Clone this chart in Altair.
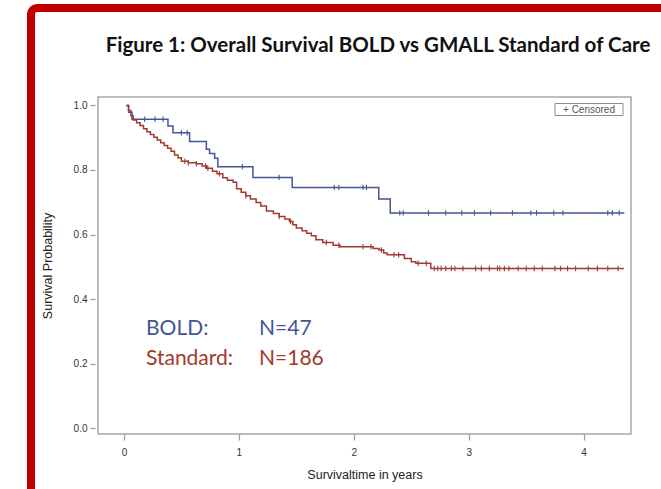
import altair as alt
import pandas as pd

# ---------------- data ----------------
groups = ["BOLD", "Standard"]
group_colors = ["#445694", "#A23A2E"]
group_n = ["N=47", "N=186"]
title_text = "Figure 1: Overall Survival BOLD vs GMALL Standard of Care"

# Kaplan-Meier step points: (time in years, survival probability)
bold_steps = [
    (0.02, 1.000), (0.04, 0.979), (0.07, 0.957), (0.383, 0.936), (0.426, 0.915),
    (0.571, 0.888), (0.717, 0.864), (0.745, 0.851), (0.789, 0.836), (0.817, 0.810),
    (1.122, 0.777), (1.464, 0.746), (2.217, 0.710), (2.317, 0.667), (4.354, 0.667),
]
standard_steps = [
    (0.02, 1.000), (0.04, 0.984), (0.06, 0.968), (0.08, 0.955), (0.11, 0.946),
    (0.14, 0.938), (0.17, 0.928), (0.20, 0.918), (0.23, 0.910), (0.26, 0.901),
    (0.29, 0.893), (0.32, 0.884), (0.35, 0.876), (0.38, 0.867), (0.41, 0.858),
    (0.44, 0.846), (0.47, 0.838), (0.50, 0.827), (0.56, 0.822), (0.63, 0.819),
    (0.68, 0.812), (0.72, 0.805), (0.77, 0.796), (0.81, 0.788), (0.86, 0.776),
    (0.90, 0.768), (0.95, 0.762), (0.98, 0.742), (1.02, 0.731), (1.06, 0.720),
    (1.10, 0.710), (1.15, 0.699), (1.19, 0.688), (1.24, 0.673), (1.30, 0.665),
    (1.35, 0.656), (1.40, 0.648), (1.44, 0.640), (1.47, 0.630), (1.50, 0.620),
    (1.55, 0.612), (1.59, 0.604), (1.63, 0.596), (1.67, 0.584), (1.73, 0.575),
    (1.82, 0.567), (1.88, 0.562), (2.17, 0.557), (2.22, 0.552), (2.26, 0.543),
    (2.29, 0.537), (2.44, 0.526), (2.50, 0.516), (2.54, 0.511), (2.67, 0.495),
    (4.35, 0.495),
]

# censoring times (years)
bold_censored = [
    0.18, 0.27, 0.34, 0.50, 0.55, 1.03, 1.35, 1.83, 1.87, 2.08, 2.11,
    2.40, 2.43, 2.65, 2.80, 2.94, 3.05, 3.19, 3.38, 3.54, 3.59, 3.74, 3.82,
    4.21, 4.25, 4.31,
]
standard_censored = [
    0.53, 0.56, 0.63, 0.71, 0.73, 0.83, 1.06, 1.35, 1.45, 1.76, 1.87,
    2.08, 2.15, 2.24, 2.35, 2.39, 2.56, 2.63,
    2.70, 2.73, 2.76, 2.80, 2.85, 2.88, 2.95, 3.06, 3.11, 3.18, 3.25, 3.27,
    3.31, 3.35, 3.43, 3.50, 3.57, 3.64, 3.75, 3.80, 3.86, 3.93, 4.04, 4.12,
    4.21, 4.30,
]

x_ticks = [0, 1, 2, 3, 4]
y_ticks = [0.0, 0.2, 0.4, 0.6, 0.8, 1.0]

# ---------------- tables ----------------
curve_rows = []
for g, steps in zip(groups, [bold_steps, standard_steps]):
    for t, s in steps:
        curve_rows.append({"group": g, "time": t, "surv": s})
curves = pd.DataFrame(curve_rows)


def surv_at(steps, t):
    val = steps[0][1]
    for st, sv in steps:
        if st <= t:
            val = sv
    return val


cens_rows = []
for g, steps, cens in zip(groups, [bold_steps, standard_steps],
                          [bold_censored, standard_censored]):
    for t in cens:
        cens_rows.append({"group": g, "time": t, "surv": surv_at(steps, t)})
censored = pd.DataFrame(cens_rows)

X_DOM = [-0.226, 4.412]
Y_DOM = [-0.018, 1.026]
color = alt.Color("group:N", scale=alt.Scale(domain=groups, range=group_colors),
                  legend=None)

x_enc = alt.X("time:Q", scale=alt.Scale(domain=X_DOM, nice=False, zero=False),
              axis=alt.Axis(values=x_ticks, format="d", title="Survivaltime in years",
                            grid=False, domain=False, tickSize=6, labelPadding=7,
                            titlePadding=11))
y_enc = alt.Y("surv:Q", scale=alt.Scale(domain=Y_DOM, nice=False, zero=False),
              axis=alt.Axis(values=y_ticks, format=".1f", title="Survival Probability",
                            grid=False, domain=False, tickSize=5, offset=3,
                            labelPadding=3, titlePadding=19))

W, H = 533, 337
one = pd.DataFrame({"k": [0]})

frame = alt.Chart(one).mark_rect(
    fill="transparent", stroke="#c00000", strokeWidth=8, cornerRadius=6
).encode(x=alt.value(-67), x2=alt.value(900), y=alt.value(-89), y2=alt.value(700))

title = alt.Chart(pd.DataFrame({"t": [title_text]})).mark_text(
    font="Lato", fontSize=20.5, fontWeight="bold", color="#111111",
    align="center", baseline="alphabetic"
).encode(x=alt.value(280), y=alt.value(-45), text="t:N")

lines = alt.Chart(curves).mark_line(interpolate="step-after", strokeWidth=1.5).encode(
    x=x_enc, y=y_enc, color=color, detail="group:N")

marks = alt.Chart(censored).mark_point(
    shape="M0,-1L0,1", filled=False, size=30, strokeWidth=1.1, opacity=1
).encode(x="time:Q", y="surv:Q", color=color)

legend_box = alt.Chart(one).mark_rect(
    fill="white", stroke="#8c8c8c", strokeWidth=1
).encode(x=alt.value(457), x2=alt.value(525), y=alt.value(6.5), y2=alt.value(18.5))
legend_text = alt.Chart(pd.DataFrame({"t": ["+ Censored"]})).mark_text(
    font="Liberation Sans", fontSize=10, color="#555555", align="center", baseline="middle"
).encode(x=alt.value(491), y=alt.value(12.8), text="t:N")

ann_layers = []
for i, (g, c, n) in enumerate(zip(groups, group_colors, group_n)):
    row = pd.DataFrame({"label": [g + ":"], "n": [n]})
    yb = 237.5 + 30 * i
    ann_layers.append(alt.Chart(row).mark_text(
        font="Lato", fontSize=21, align="left", baseline="alphabetic", color=c
    ).encode(x=alt.value(48), y=alt.value(yb), text="label:N"))
    ann_layers.append(alt.Chart(row).mark_text(
        font="Lato", fontSize=21, align="left", baseline="alphabetic", color=c
    ).encode(x=alt.value(161), y=alt.value(yb), text="n:N"))

chart = alt.layer(frame, title, lines, marks, legend_box, legend_text, *ann_layers).properties(
    width=W, height=H,
    autosize=alt.AutoSizeParams(type="none"),
    padding={"left": 98, "top": 97, "right": 30, "bottom": 55},
    background="white",
).configure_view(stroke="#a6a6a6", strokeWidth=1.5).configure_axis(
    labelFont="Liberation Sans", labelFontSize=10, labelColor="#333333",
    titleFont="Liberation Sans", titleFontSize=12.5, titleColor="#222222",
    titleFontWeight="normal", tickColor="#9a9a9a", tickWidth=1.2,
)

chart.save("out.html", embed_options={"renderer": "svg", "actions": False})
